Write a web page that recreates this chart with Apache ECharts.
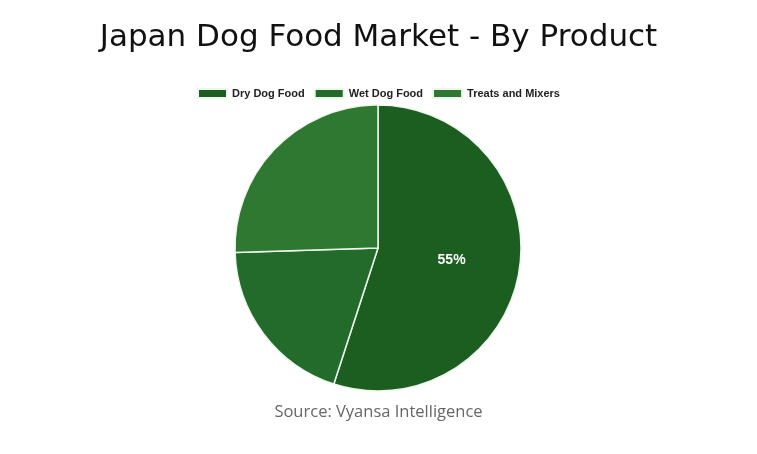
<!DOCTYPE html>
<html>
<head>
<meta charset="utf-8">
<script src="https://cdn.jsdelivr.net/npm/echarts@6/dist/echarts.min.js"></script>
<style>
  html, body { margin: 0; padding: 0; background: #fff; }
  #main { width: 757px; height: 454px; }
</style>
</head>
<body>
<div id="main"></div>
<script>
var categories = ['Dry Dog Food', 'Wet Dog Food', 'Treats and Mixers'];
var shares = [55, 19.5, 25.5];
var colors = ['#1b5e20', '#236b2a', '#2e7832'];

var pieData = categories.map(function (name, i) {
    return {
        name: name,
        value: shares[i],
        label: { show: i === 0 }
    };
});

var chart = echarts.init(document.getElementById('main'));
chart.setOption({
    color: colors,
    title: [
        {
            text: 'Japan Dog Food Market - By Product',
            left: 'center',
            top: 17,
            textStyle: { fontFamily: 'DejaVu Sans', fontSize: 31, fontWeight: 'normal', color: '#111' }
        },
        {
            text: 'Source: Vyansa Intelligence',
            left: 'center',
            top: 399,
            textStyle: { fontFamily: 'Open Sans', fontSize: 16.5, fontWeight: 'normal', color: '#666' }
        }
    ],
    legend: {
        top: 83,
        left: 'center',
        itemWidth: 29,
        itemHeight: 9,
        itemGap: 9,
        icon: 'rect',
        textStyle: { fontFamily: 'Liberation Sans', fontSize: 11, fontWeight: 'bold', color: '#222' },
        data: categories
    },
    series: [{
        type: 'pie',
        center: [378, 248],
        radius: [0, 143],
        startAngle: 90,
        clockwise: true,
        itemStyle: { borderColor: '#eef7ee', borderWidth: 1.5 },
        label: {
            position: 'inside',
            formatter: '{d}%',
            color: '#fff',
            fontFamily: 'Liberation Sans',
            fontSize: 14,
            fontWeight: 'bold'
        },
        labelLine: { show: false },
        emphasis: { scale: false },
        data: pieData
    }]
});
</script>
</body>
</html>
